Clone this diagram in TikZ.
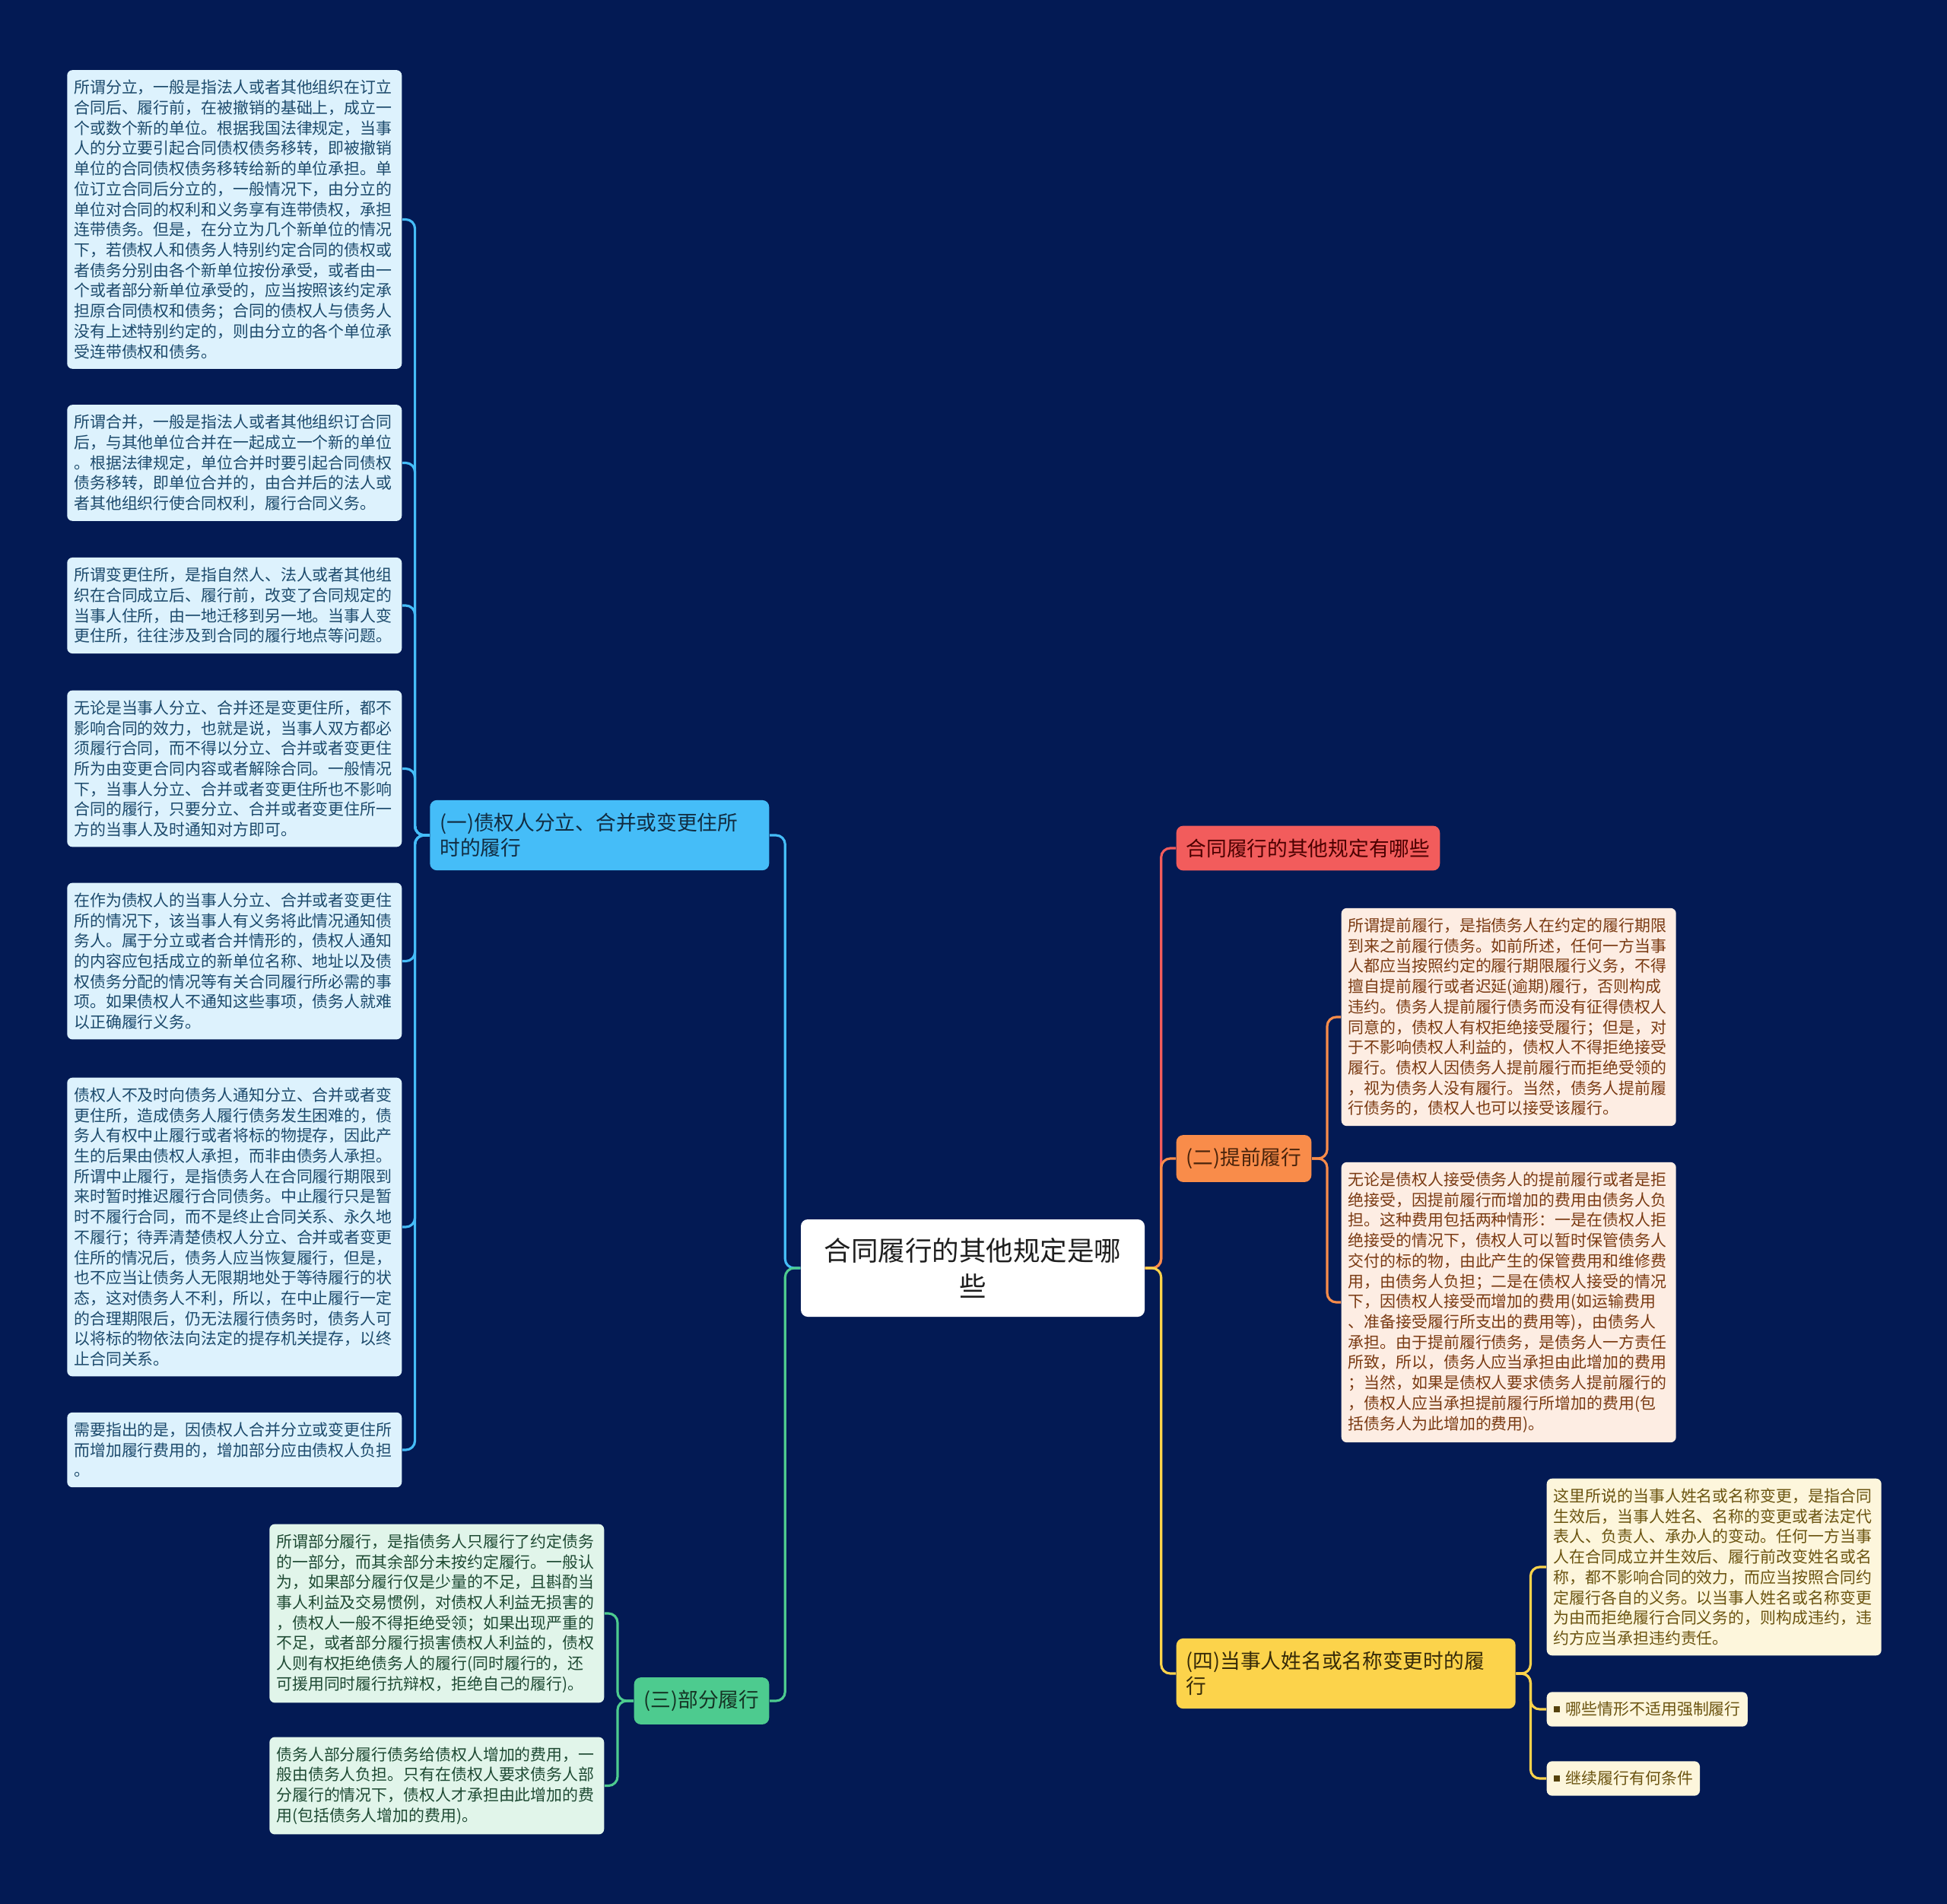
\documentclass[tikz,border=0pt]{standalone}
\usepackage{fontspec}
\setmainfont{Noto Sans CJK SC}
\usepackage{tikz}
\usetikzlibrary{positioning}
\definecolor{navy}{HTML}{031A54}
\definecolor{cblue}{HTML}{45BDF8}
\definecolor{cgreen}{HTML}{4DCB8F}
\definecolor{cred}{HTML}{F25C5C}
\definecolor{corange}{HTML}{F98C4A}
\definecolor{cyellow}{HTML}{FCD34B}
\definecolor{lblue}{HTML}{DDF2FD}
\definecolor{lgreen}{HTML}{E1F5EA}
\definecolor{lpeach}{HTML}{FDEDE3}
\definecolor{lyellow}{HTML}{FDF6DC}
\definecolor{tblue}{HTML}{1C4A6C}
\definecolor{tgreen}{HTML}{1E4A33}
\definecolor{tpeach}{HTML}{7A3A12}
\definecolor{tyellow}{HTML}{6B5410}
\definecolor{tdark}{HTML}{1E1E1E}

\begin{document}
\begin{tikzpicture}[
  root/.style={rounded corners=0.09cm,fill=white,text=tdark,align=center,
               minimum width=4.52cm,minimum height=1.28cm,
               font=\fontsize{10.1pt}{13.3pt}\selectfont},
  branch/.style={rounded corners=0.09cm,inner xsep=0.13cm,inner ysep=0.17cm,
                 font=\fontsize{7.6pt}{9.5pt}\selectfont},
  bblue/.style={branch,fill=cblue,text=tblue!60!black,text width=4.2cm,align=left},
  bgreen/.style={branch,fill=cgreen,text=tgreen!70!black},
  bred/.style={branch,fill=cred,text=red!30!black},
  borange/.style={branch,fill=corange,text=tpeach!60!black},
  byellow/.style={branch,fill=cyellow,text=tyellow!50!black,text width=4.2cm,align=left},
  leaf/.style={rounded corners=0.07cm,inner xsep=0.09cm,inner ysep=0.13cm,
               font=\fontsize{5.95pt}{7.6pt}\selectfont},
  leafw/.style={leaf,text width=4.22cm,align=left},
  lfblue/.style={leafw,fill=lblue,text=tblue},
  lfgreen/.style={leafw,fill=lgreen,text=tgreen},
  lfpeach/.style={leafw,fill=lpeach,text=tpeach},
  lfyellow/.style={leafw,fill=lyellow,text=tyellow},
  lfitem/.style={leaf,fill=lyellow,text=tyellow},
  link/.style={line width=0.9pt,rounded corners=0.12cm}]
\newcommand{\itembox}{\raisebox{0.04cm}{\rule{0.08cm}{0.08cm}}\hspace{0.08cm}}
\useasboundingbox (0,0) rectangle (25.6,-25.03);
\fill[navy] (0,0) rectangle (25.6,-25.03);

% centre and main branches
\node[root] (main) at (12.79,-16.67) {合同履行的其他规定是哪\\些};
\node[bblue,anchor=east] (split) at (10.12,-10.98) {(一)债权人分立、合并或变更住所\\时的履行};
\node[bgreen,anchor=east] (part) at (10.12,-22.36) {(三)部分履行};
\node[bred,anchor=west] (other) at (15.46,-11.15) {合同履行的其他规定有哪些};
\node[borange,anchor=west] (early) at (15.46,-15.23) {(二)提前履行};
\node[byellow,anchor=west] (rename) at (15.46,-22.00) {(四)当事人姓名或名称变更时的履\\行};

% (一)
\node[lfblue,anchor=east] (sp1) at (5.29,-2.885) {所谓分立，一般是指法人或者其他组织在订立\\合同后、履行前，在被撤销的基础上，成立一\\个或数个新的单位。根据我国法律规定，当事\\人的分立要引起合同债权债务移转，即被撤销\\单位的合同债权债务移转给新的单位承担。单\\位订立合同后分立的，一般情况下，由分立的\\单位对合同的权利和义务享有连带债权，承担\\连带债务。但是，在分立为几个新单位的情况\\下，若债权人和债务人特别约定合同的债权或\\者债务分别由各个新单位按份承受，或者由一\\个或者部分新单位承受的，应当按照该约定承\\担原合同债权和债务；合同的债权人与债务人\\没有上述特别约定的，则由分立的各个单位承\\受连带债权和债务。};
\node[lfblue,anchor=east] (sp2) at (5.29,-6.085) {所谓合并，一般是指法人或者其他组织订合同\\后，与其他单位合并在一起成立一个新的单位\\。根据法律规定，单位合并时要引起合同债权\\债务移转，即单位合并的，由合并后的法人或\\者其他组织行使合同权利，履行合同义务。};
\node[lfblue,anchor=east] (sp3) at (5.29,-7.96) {所谓变更住所，是指自然人、法人或者其他组\\织在合同成立后、履行前，改变了合同规定的\\当事人住所，由一地迁移到另一地。当事人变\\更住所，往往涉及到合同的履行地点等问题。};
\node[lfblue,anchor=east] (sp4) at (5.29,-10.105) {无论是当事人分立、合并还是变更住所，都不\\影响合同的效力，也就是说，当事人双方都必\\须履行合同，而不得以分立、合并或者变更住\\所为由变更合同内容或者解除合同。一般情况\\下，当事人分立、合并或者变更住所也不影响\\合同的履行，只要分立、合并或者变更住所一\\方的当事人及时通知对方即可。};
\node[lfblue,anchor=east] (sp5) at (5.29,-12.635) {在作为债权人的当事人分立、合并或者变更住\\所的情况下，该当事人有义务将此情况通知债\\务人。属于分立或者合并情形的，债权人通知\\的内容应包括成立的新单位名称、地址以及债\\权债务分配的情况等有关合同履行所必需的事\\项。如果债权人不通知这些事项，债务人就难\\以正确履行义务。};
\node[lfblue,anchor=east] (sp6) at (5.29,-16.13) {债权人不及时向债务人通知分立、合并或者变\\更住所，造成债务人履行债务发生困难的，债\\务人有权中止履行或者将标的物提存，因此产\\生的后果由债权人承担，而非由债务人承担。\\所谓中止履行，是指债务人在合同履行期限到\\来时暂时推迟履行合同债务。中止履行只是暂\\时不履行合同，而不是终止合同关系、永久地\\不履行；待弄清楚债权人分立、合并或者变更\\住所的情况后，债务人应当恢复履行，但是，\\也不应当让债务人无限期地处于等待履行的状\\态，这对债务人不利，所以，在中止履行一定\\的合理期限后，仍无法履行债务时，债务人可\\以将标的物依法向法定的提存机关提存，以终\\止合同关系。};
\node[lfblue,anchor=east] (sp7) at (5.29,-19.06) {需要指出的是，因债权人合并分立或变更住所\\而增加履行费用的，增加部分应由债权人负担\\。};

% (三)
\node[lfgreen,anchor=east] (pt1) at (7.95,-21.21) {所谓部分履行，是指债务人只履行了约定债务\\的一部分，而其余部分未按约定履行。一般认\\为，如果部分履行仅是少量的不足，且斟酌当\\事人利益及交易惯例，对债权人利益无损害的\\，债权人一般不得拒绝受领；如果出现严重的\\不足，或者部分履行损害债权人利益的，债权\\人则有权拒绝债务人的履行(同时履行的，还\\可援用同时履行抗辩权，拒绝自己的履行)。};
\node[lfgreen,anchor=east] (pt2) at (7.95,-23.475) {债务人部分履行债务给债权人增加的费用，一\\般由债务人负担。只有在债权人要求债务人部\\分履行的情况下，债权人才承担由此增加的费\\用(包括债务人增加的费用)。};

% (二)
\node[lfpeach,anchor=west] (ea1) at (17.63,-13.37) {所谓提前履行，是指债务人在约定的履行期限\\到来之前履行债务。如前所述，任何一方当事\\人都应当按照约定的履行期限履行义务，不得\\擅自提前履行或者迟延(逾期)履行，否则构成\\违约。债务人提前履行债务而没有征得债权人\\同意的，债权人有权拒绝接受履行；但是，对\\于不影响债权人利益的，债权人不得拒绝接受\\履行。债权人因债务人提前履行而拒绝受领的\\，视为债务人没有履行。当然，债务人提前履\\行债务的，债权人也可以接受该履行。};
\node[lfpeach,anchor=west] (ea2) at (17.63,-17.12) {无论是债权人接受债务人的提前履行或者是拒\\绝接受，因提前履行而增加的费用由债务人负\\担。这种费用包括两种情形：一是在债权人拒\\绝接受的情况下，债权人可以暂时保管债务人\\交付的标的物，由此产生的保管费用和维修费\\用，由债务人负担；二是在债权人接受的情况\\下，因债权人接受而增加的费用(如运输费用\\、准备接受履行所支出的费用等)，由债务人\\承担。由于提前履行债务，是债务人一方责任\\所致，所以，债务人应当承担由此增加的费用\\；当然，如果是债权人要求债务人提前履行的\\，债权人应当承担提前履行所增加的费用(包\\括债务人为此增加的费用)。};

% (四)
\node[lfyellow,anchor=west] (rn1) at (20.33,-20.60) {这里所说的当事人姓名或名称变更，是指合同\\生效后，当事人姓名、名称的变更或者法定代\\表人、负责人、承办人的变动。任何一方当事\\人在合同成立并生效后、履行前改变姓名或名\\称，都不影响合同的效力，而应当按照合同约\\定履行各自的义务。以当事人姓名或名称变更\\为由而拒绝履行合同义务的，则构成违约，违\\约方应当承担违约责任。};
\node[lfitem,anchor=west] (rn2) at (20.33,-22.47) {\textcolor{tyellow!80!black}{\itembox}哪些情形不适用强制履行};
\node[lfitem,anchor=west] (rn3) at (20.33,-23.38) {\textcolor{tyellow!80!black}{\itembox}继续履行有何条件};

% connectors
\draw[link,cblue] (main.west) -- ++(-0.2,0) |- (split.east);
\draw[link,cgreen] (main.west) -- ++(-0.2,0) |- (part.east);
\draw[link,cred] (main.east) -- ++(0.21,0) |- (other.west);
\draw[link,corange] (main.east) -- ++(0.21,0) |- (early.west);
\draw[link,cyellow] (main.east) -- ++(0.21,0) |- (rename.west);
\foreach \leafnode in {sp1,sp2,sp3,sp4,sp5,sp6,sp7}
  \draw[link,cblue] (split.west) -- ++(-0.19,0) |- (\leafnode.east);
\foreach \leafnode in {pt1,pt2}
  \draw[link,cgreen] (part.west) -- ++(-0.21,0) |- (\leafnode.east);
\foreach \leafnode in {ea1,ea2}
  \draw[link,corange] (early.east) -- ++(0.2,0) |- (\leafnode.west);
\foreach \leafnode in {rn1,rn2,rn3}
  \draw[link,cyellow] (rename.east) -- ++(0.19,0) |- (\leafnode.west);
\end{tikzpicture}
\end{document}
